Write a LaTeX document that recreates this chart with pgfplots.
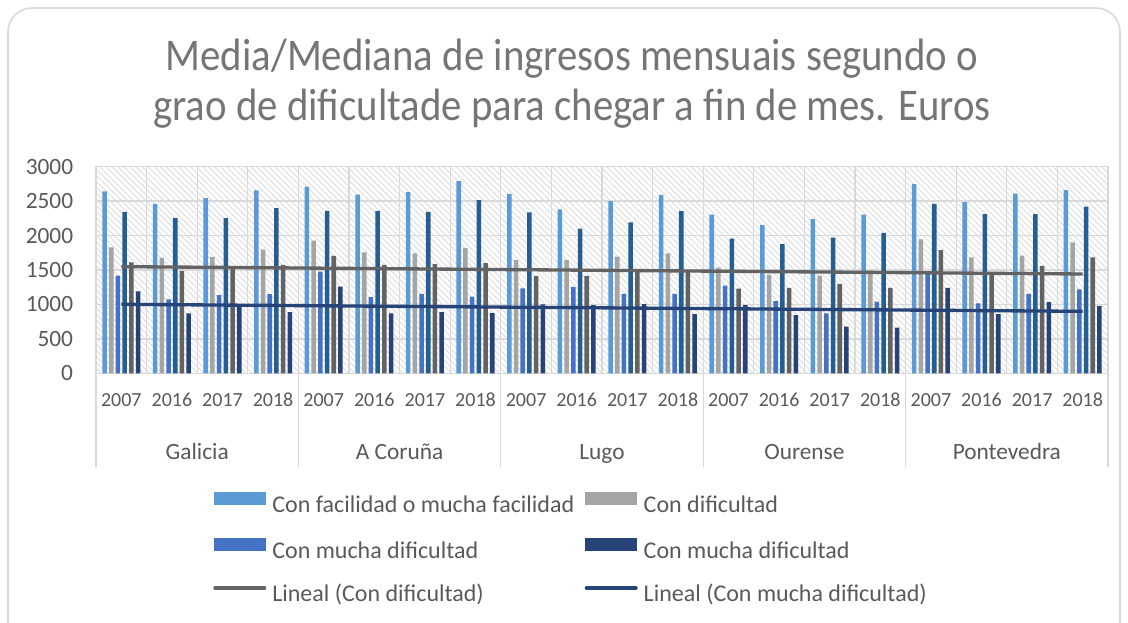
\documentclass[border=0pt]{standalone}
\usepackage{fontspec}
\setmainfont{Carlito}
\newfontfamily\condfont{Carlito}[FakeStretch=0.9]
\usepackage{pgfplots}
\usepackage{pgfplotstable}
\pgfplotsset{compat=1.18}
\usetikzlibrary{patterns.meta}
\definecolor{clb}{HTML}{5B9BD5}
\definecolor{cgr}{HTML}{A5A5A5}
\definecolor{cbl}{HTML}{4472C4}
\definecolor{cdb}{HTML}{255E91}
\definecolor{cdg}{HTML}{636363}
\definecolor{cnv}{HTML}{264478}
\definecolor{gridc}{HTML}{D9D9D9}
\definecolor{hatchc}{HTML}{E2E2E2}
\definecolor{txt}{HTML}{595959}
\definecolor{ttl}{HTML}{757575}

\pgfplotstableread{
x lb gr bl db dg nv
0 2640 1830 1420 2345 1610 1190
1 2460 1675 1075 2255 1485 870
2 2545 1690 1135 2255 1545 970
3 2655 1795 1150 2400 1575 890
4 2710 1925 1475 2360 1705 1260
5 2595 1755 1105 2360 1575 870
6 2630 1740 1155 2345 1585 890
7 2790 1820 1115 2515 1600 875
8 2605 1645 1235 2335 1415 1000
9 2380 1645 1255 2100 1415 990
10 2500 1695 1155 2190 1480 1005
11 2590 1740 1155 2355 1470 860
12 2305 1535 1275 1955 1230 990
13 2150 1430 1050 1875 1240 845
14 2240 1420 870 1970 1300 680
15 2305 1460 1040 2040 1240 665
16 2745 1945 1440 2460 1790 1240
17 2485 1685 1015 2310 1450 860
18 2610 1710 1155 2310 1560 1035
19 2660 1900 1220 2420 1685 980
}\datatable

\begin{document}
\begin{tikzpicture}
\useasboundingbox (0,0) rectangle (846pt,-466.5pt);
\draw[color=black!14, line width=1.3pt, rounded corners=18pt] (6pt,-6pt) rectangle (840pt,-520pt);
\node[font=\condfont\fontsize{34}{40}\selectfont, text=ttl, anchor=base, inner sep=0pt] at (429pt,-52.5pt) {Media/Mediana de ingresos mensuais segundo o};
\node[font=\condfont\fontsize{34}{40}\selectfont, text=ttl, anchor=base, inner sep=0pt] at (429pt,-90.5pt) {grao de dificultade para chegar a fin de mes. Euros};

\begin{axis}[
  at={(72pt,-280pt)}, anchor=south west,
  scale only axis, width=759pt, height=155pt,
  xmin=-0.5, xmax=19.5, ymin=0, ymax=3000,
  clip=false,
  axis background/.style={pattern={Lines[angle=-45,distance=3.2pt,line width=0.9pt]}, pattern color=hatchc},
  axis line style={draw=gridc, line width=1pt},
  major tick length=0pt, minor tick length=0pt,
  ytick={0,500,...,3000},
  yticklabels={0,500,1000,1500,2000,2500,3000},
  xtick={0,...,19},
  xticklabels={2007,2016,2017,2018,2007,2016,2017,2018,2007,2016,2017,2018,2007,2016,2017,2018,2007,2016,2017,2018},
  minor xtick={-0.5,0.5,...,19.5},
  ymajorgrids, xminorgrids,
  major grid style={draw=gridc, line width=1pt},
  minor grid style={draw=gridc, line width=1pt},
  yticklabel style={font=\fontsize{17.5}{20}\selectfont, text=txt, anchor=east, inner sep=0pt, xshift=-17pt},
  xticklabel style={font=\fontsize{15}{18}\selectfont, text=txt, anchor=center, inner sep=0pt, yshift=-20pt},
  legend columns=2,
  legend cell align=left,
  legend style={draw=none, fill=none, at={(0.1156,-0.5743)}, anchor=north west, inner sep=0pt,
    font=\fontsize{18}{20}\selectfont, text=txt,
    row sep=15.1pt, column sep=4.5pt,
    /tikz/every even column/.append style={column sep=7.8pt},
    nodes={inner sep=0pt, text height=13pt, text depth=4.5pt}},
]
\addplot[ybar, bar width=3.4pt, bar shift=-12.56pt, fill=clb, draw=none,
  legend image code/.code={\fill[clb] (0pt,1.25pt) rectangle (39pt,10.75pt);}] table[x=x,y=lb] {\datatable};
\addlegendentry{Con facilidad o mucha facilidad}
\addplot[ybar, bar width=3.4pt, bar shift=-7.54pt, fill=cgr, draw=none,
  legend image code/.code={\fill[cgr] (0pt,1.25pt) rectangle (39pt,10.75pt);}] table[x=x,y=gr] {\datatable};
\addlegendentry{Con dificultad}
\addplot[ybar, bar width=3.4pt, bar shift=-2.51pt, fill=cbl, draw=none,
  legend image code/.code={\fill[cbl] (0pt,1.25pt) rectangle (39pt,10.75pt);}] table[x=x,y=bl] {\datatable};
\addlegendentry{Con mucha dificultad}
\addplot[ybar, bar width=3.4pt, bar shift=2.51pt, fill=cdb, draw=none, forget plot] table[x=x,y=db] {\datatable};
\addplot[ybar, bar width=3.4pt, bar shift=7.54pt, fill=cdg, draw=none, forget plot] table[x=x,y=dg] {\datatable};
\addplot[ybar, bar width=3.4pt, bar shift=12.56pt, fill=cnv, draw=none,
  legend image code/.code={\fill[cnv] (0pt,1.25pt) rectangle (39pt,10.75pt);}] table[x=x,y=nv] {\datatable};
\addlegendentry{Con mucha dificultad}
\addplot[cdg, line width=2.5pt, mark=none,
  legend image code/.code={\draw[cdg, line width=2.8pt, line cap=round] (1pt,6pt) -- (38pt,6pt);}] coordinates {(0,1549) (19,1442)};
\addlegendentry{Lineal (Con dificultad)}
\addplot[cnv, line width=2.5pt, mark=none,
  legend image code/.code={\draw[cnv, line width=2.8pt, line cap=round] (1pt,6pt) -- (38pt,6pt);}] coordinates {(0,1002) (19,900)};
\addlegendentry{Lineal (Con mucha dificultad)}

\pgfplotsinvokeforeach{-0.5,3.5,7.5,11.5,15.5,19.5}{
  \draw[gridc, line width=1pt] (axis cs:#1,0) -- ++(0pt,-70pt);
}
\node[font=\fontsize{17.5}{20}\selectfont, text=txt, anchor=base, inner sep=0pt, yshift=-64.6pt] at (axis cs:1.5,0) {Galicia};
\node[font=\fontsize{17.5}{20}\selectfont, text=txt, anchor=base, inner sep=0pt, yshift=-64.6pt] at (axis cs:5.5,0) {A Coruña};
\node[font=\fontsize{17.5}{20}\selectfont, text=txt, anchor=base, inner sep=0pt, yshift=-64.6pt] at (axis cs:9.5,0) {Lugo};
\node[font=\fontsize{17.5}{20}\selectfont, text=txt, anchor=base, inner sep=0pt, yshift=-64.6pt] at (axis cs:13.5,0) {Ourense};
\node[font=\fontsize{17.5}{20}\selectfont, text=txt, anchor=base, inner sep=0pt, yshift=-64.6pt] at (axis cs:17.5,0) {Pontevedra};
\end{axis}
\end{tikzpicture}
\end{document}
